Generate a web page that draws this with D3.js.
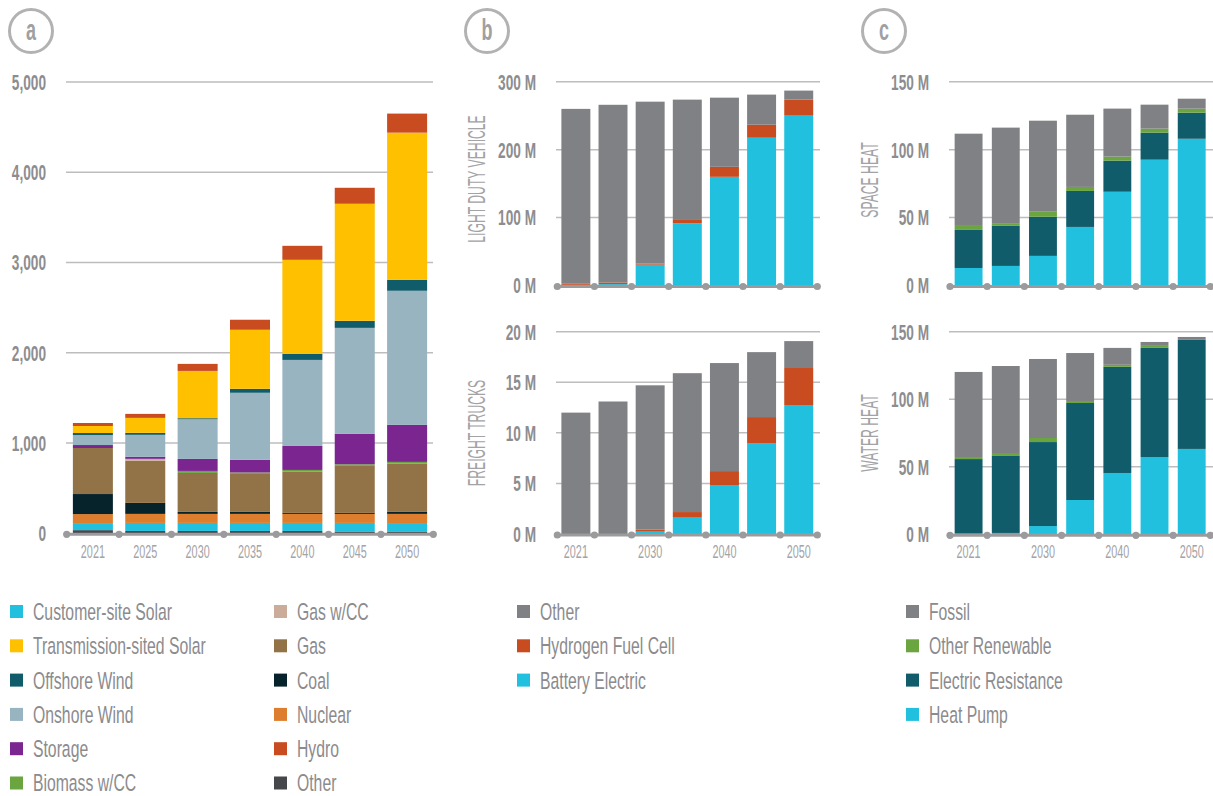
<!DOCTYPE html>
<html>
<head>
<meta charset="utf-8">
<script src="https://cdn.jsdelivr.net/npm/d3@7"></script>
<style>
  html, body { margin: 0; padding: 0; background: #fff; }
  svg { display: block; font-family: "Liberation Sans", Arial, sans-serif; }
</style>
</head>
<body>
<svg id="chart" width="1213" height="796"></svg>
<script>
// ---- Categories ----
const years = ["2021", "2025", "2030", "2035", "2040", "2045", "2050"];
const sparseYears = ["2021", "2030", "2040", "2050"];

// ---- Panel a: generation by resource ----
const genOther      = [35, 26, 26, 26, 26, 15, 15];
const custSolar     = [78, 89, 89, 89, 89, 100, 89];
const nuclear       = [100, 100, 100, 100, 100, 100, 111];
const coal          = [222, 122, 22, 22, 11, 11, 22];
const gas           = [510, 466, 432, 429, 458, 528, 536];
const gasCC         = [0, 22, 0, 0, 0, 0, 0];
const biomassCC     = [0, 0, 22, 8, 18, 11, 18];
const storage       = [33, 22, 133, 140, 266, 336, 410];
const onshoreWind   = [111, 244, 440, 743, 953, 1175, 1486];
const offshoreWind  = [22, 22, 11, 44, 67, 78, 122];
const transSolar    = [78, 166, 524, 654, 1042, 1297, 1630];
const hydro         = [33, 44, 78, 111, 155, 177, 211];
const genTicks      = [0, 1000, 2000, 3000, 4000, 5000];

// ---- Panel b: vehicle stocks (millions) ----
const ldvBattery    = [1, 2, 30.7, 91.7, 160, 217.5, 250];
const ldvHydrogen   = [1.5, 2.5, 1.5, 5.9, 14.7, 19.2, 23.6];
const ldvOther      = [257.5, 261.5, 238.4, 176, 101.8, 44.3, 13.3];
const ldvTicks      = [0, 100, 200, 300];
const truckBattery  = [0, 0, 0.23, 1.68, 4.84, 8.99, 12.75];
const truckHydrogen = [0, 0, 0.2, 0.49, 1.38, 2.57, 3.66];
const truckOther    = [12.0, 13.1, 14.27, 13.73, 10.68, 6.42, 2.66];
const truckTicks    = [0, 5, 10, 15, 20];

// ---- Panel c: building heating equipment (millions) ----
const spaceHeatPump   = [12.9, 14.4, 21.8, 43.1, 69.0, 92.6, 108.0];
const spaceResistance = [28.0, 29.5, 28.8, 26.5, 22.9, 19.9, 19.2];
const spaceOtherRenew = [2.95, 2.0, 3.7, 2.95, 2.95, 2.95, 2.95];
const spaceFossil     = [67.9, 70.3, 67.0, 53.15, 35.35, 17.65, 7.35];
const waterHeatPump   = [0.5, 1, 6.1, 25.4, 45.4, 57.2, 63.2];
const waterResistance = [55.2, 57, 62.2, 71.8, 78.6, 80.8, 80.7];
const waterOtherRenew = [1.5, 2.2, 3.0, 1.5, 1.5, 1.5, 0.7];
const waterFossil     = [63.0, 64.4, 58.5, 35.5, 12.5, 2.9, 1.5];
const heatTicks       = [0, 50, 100, 150];

// ---- Colours ----
const C = {
  custSolar: "#20c0de", transSolar: "#ffc000", offshore: "#105c6a", onshore: "#97b4c0",
  storage: "#7a2590", biomass: "#6aa53f", gasCC: "#cbab9a", gas: "#917347",
  coal: "#06232b", nuclear: "#dd7e2e", hydro: "#c94b20", other: "#46474b",
  grey: "#808184"
};

const svg = d3.select("#chart");

// condensed text helper: horizontal compression keeps glyph heights
function ctext(parent, x, y, str, o) {
  const t = parent.append("text")
    .attr("transform", `translate(${x},${y})${o.rotate ? ` rotate(${o.rotate})` : ""} scale(${o.sx},1)`)
    .attr("font-size", o.size)
    .attr("font-weight", o.weight || "normal")
    .attr("fill", o.fill)
    .attr("text-anchor", o.anchor || "start")
    .text(str);
  if (o.dy) t.attr("dy", o.dy);
  return t;
}

// stacked bar panel
function stackPanel(cfg) {
  const g = svg.append("g");
  const x = d3.scaleBand().domain(years).range(cfg.xr)
    .paddingInner(cfg.pad).paddingOuter(cfg.pad / 2);
  const y = d3.scaleLinear().domain(cfg.domain).range(cfg.yr);

  // gridlines
  g.selectAll("line.grid").data(cfg.ticks.filter(d => d > 0)).join("line")
    .attr("x1", cfg.gx[0]).attr("x2", cfg.gx[1])
    .attr("y1", d => y(d)).attr("y2", d => y(d))
    .attr("stroke", "#bdbdbf").attr("stroke-width", 1.5);

  // y tick labels
  cfg.ticks.forEach(t => {
    ctext(g, cfg.labelX, y(t), cfg.fmt(t),
      { size: 22, weight: "bold", fill: "#8d8d90", sx: 0.62, anchor: "end", dy: "0.36em" });
  });

  // stacked series
  const rows = years.map((yr, i) => {
    const r = { year: yr };
    cfg.series.forEach(s => { r[s.key] = s.values[i]; });
    return r;
  });
  const stack = d3.stack().keys(cfg.series.map(s => s.key))(rows);
  const colour = d3.scaleOrdinal().domain(cfg.series.map(s => s.key)).range(cfg.series.map(s => s.color));
  g.selectAll("g.layer").data(stack).join("g")
    .attr("fill", d => colour(d.key))
    .selectAll("rect").data(d => d).join("rect")
    .attr("x", d => x(d.data.year))
    .attr("width", x.bandwidth())
    .attr("y", d => y(d[1]))
    .attr("height", d => Math.max(0, y(d[0]) - y(d[1])));

  // baseline with boundary dots
  const step = x.step();
  const x0 = cfg.xr[0];
  g.append("line")
    .attr("x1", x0).attr("x2", cfg.xr[1])
    .attr("y1", y(0) + 1).attr("y2", y(0) + 1)
    .attr("stroke", "#9b9b9d").attr("stroke-width", 3);
  g.selectAll("circle.dot").data(d3.range(years.length + 1)).join("circle")
    .attr("cx", i => x0 + i * step).attr("cy", y(0) + 1).attr("r", 3.6)
    .attr("fill", "#9b9b9d");

  // x labels
  if (cfg.xlabels) {
    cfg.xlabels.forEach(yr => {
      ctext(g, x(yr) + x.bandwidth() / 2, 558, yr,
        { size: 19, fill: "#a3a3a6", sx: 0.57, anchor: "middle" });
    });
  }

  // rotated title
  if (cfg.title) {
    ctext(g, cfg.title.x, cfg.title.y, cfg.title.text,
      { size: 23, fill: "#a3a3a6", sx: 0.53, anchor: "middle", rotate: -90, dy: "0.36em" });
  }
}

// panel letter badge
function badge(cx, cy, letter) {
  svg.append("circle").attr("cx", cx).attr("cy", cy).attr("r", 21.5)
    .attr("fill", "none").attr("stroke", "#b2b2b4").attr("stroke-width", 3);
  ctext(svg, cx, cy, letter,
    { size: 29, weight: "bold", fill: "#a0a0a3", sx: 0.62, anchor: "middle", dy: "0.3em" });
}

// legend column
function legend(x, items) {
  items.forEach((it, i) => {
    const cy = 611.5 + i * 34.3;
    svg.append("rect").attr("x", x).attr("y", cy - 6.5).attr("width", 13).attr("height", 13)
      .attr("fill", it.color);
    ctext(svg, x + 23, cy, it.label,
      { size: 23.5, fill: "#8b8b8e", sx: 0.67, dy: "0.36em" });
  });
}

// ---- Panel a ----
badge(31, 31, "a");
stackPanel({
  xr: [66.7, 433.3], pad: 0.236, gx: [66, 433],
  domain: [0, 5000], yr: [533.3, 82], ticks: genTicks, fmt: d3.format(","), labelX: 46,
  xlabels: years,
  series: [
    { key: "Other", values: genOther, color: C.other },
    { key: "Customer-site Solar", values: custSolar, color: C.custSolar },
    { key: "Nuclear", values: nuclear, color: C.nuclear },
    { key: "Coal", values: coal, color: C.coal },
    { key: "Gas", values: gas, color: C.gas },
    { key: "Gas w/CC", values: gasCC, color: C.gasCC },
    { key: "Biomass w/CC", values: biomassCC, color: C.biomass },
    { key: "Storage", values: storage, color: C.storage },
    { key: "Onshore Wind", values: onshoreWind, color: C.onshore },
    { key: "Offshore Wind", values: offshoreWind, color: C.offshore },
    { key: "Transmission-sited Solar", values: transSolar, color: C.transSolar },
    { key: "Hydro", values: hydro, color: C.hydro }
  ]
});
legend(10, [
  { label: "Customer-site Solar", color: C.custSolar },
  { label: "Transmission-sited Solar", color: C.transSolar },
  { label: "Offshore Wind", color: C.offshore },
  { label: "Onshore Wind", color: C.onshore },
  { label: "Storage", color: C.storage },
  { label: "Biomass w/CC", color: C.biomass }
]);
legend(274, [
  { label: "Gas w/CC", color: C.gasCC },
  { label: "Gas", color: C.gas },
  { label: "Coal", color: C.coal },
  { label: "Nuclear", color: C.nuclear },
  { label: "Hydro", color: C.hydro },
  { label: "Other", color: C.other }
]);

// ---- Panel b ----
badge(487, 31, "b");
const vehSeries = (bev, h2, oth) => [
  { key: "Battery Electric", values: bev, color: C.custSolar },
  { key: "Hydrogen Fuel Cell", values: h2, color: C.hydro },
  { key: "Other", values: oth, color: C.grey }
];
stackPanel({
  xr: [557.3, 817.3], pad: 0.22, gx: [556, 820],
  domain: [0, 300], yr: [285.5, 81.7], ticks: ldvTicks, fmt: d => d + " M", labelX: 536,
  title: { x: 477, y: 179, text: "LIGHT DUTY VEHICLE" },
  series: vehSeries(ldvBattery, ldvHydrogen, ldvOther)
});
stackPanel({
  xr: [557.3, 817.3], pad: 0.22, gx: [556, 820],
  domain: [0, 20], yr: [534, 331.7], ticks: truckTicks, fmt: d => d + " M", labelX: 536,
  title: { x: 477, y: 433, text: "FREIGHT TRUCKS" }, xlabels: sparseYears,
  series: vehSeries(truckBattery, truckHydrogen, truckOther)
});
legend(517, [
  { label: "Other", color: C.grey },
  { label: "Hydrogen Fuel Cell", color: C.hydro },
  { label: "Battery Electric", color: C.custSolar }
]);

// ---- Panel c ----
badge(884, 31, "c");
const heatSeries = (hp, er, orn, fos) => [
  { key: "Heat Pump", values: hp, color: C.custSolar },
  { key: "Electric Resistance", values: er, color: C.offshore },
  { key: "Other Renewable", values: orn, color: C.biomass },
  { key: "Fossil", values: fos, color: C.grey }
];
stackPanel({
  xr: [950, 1210.3], pad: 0.25, gx: [949, 1213],
  domain: [0, 150], yr: [285.5, 81.7], ticks: heatTicks, fmt: d => d + " M", labelX: 929,
  title: { x: 870, y: 180, text: "SPACE HEAT" },
  series: heatSeries(spaceHeatPump, spaceResistance, spaceOtherRenew, spaceFossil)
});
stackPanel({
  xr: [950, 1210.3], pad: 0.25, gx: [949, 1213],
  domain: [0, 150], yr: [534.3, 331.7], ticks: heatTicks, fmt: d => d + " M", labelX: 929,
  title: { x: 870, y: 433, text: "WATER HEAT" }, xlabels: sparseYears,
  series: heatSeries(waterHeatPump, waterResistance, waterOtherRenew, waterFossil)
});
legend(906, [
  { label: "Fossil", color: C.grey },
  { label: "Other Renewable", color: C.biomass },
  { label: "Electric Resistance", color: C.offshore },
  { label: "Heat Pump", color: C.custSolar }
]);
</script>
</body>
</html>
